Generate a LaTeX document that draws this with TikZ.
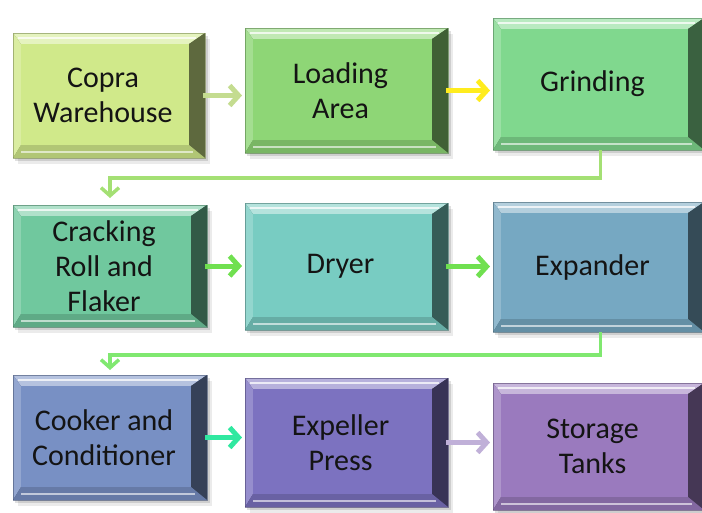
\documentclass[tikz,border=0pt]{standalone}
\usepackage{fontspec}
\setmainfont{Carlito}
\usepackage{xcolor}
\usetikzlibrary{arrows.meta,calc}
\definecolor{cwc}{HTML}{D0E98A}
\definecolor{lac}{HTML}{8ED676}
\definecolor{grc}{HTML}{80D88E}
\definecolor{crc}{HTML}{70C89E}
\definecolor{drc}{HTML}{78CCC2}
\definecolor{exc}{HTML}{76A8C2}
\definecolor{coc}{HTML}{7890C4}
\definecolor{epc}{HTML}{7C72C0}
\definecolor{stc}{HTML}{9A7ABE}
% bevelled box: name, x1, y1, x2, y2, colour, text
\newcommand{\bevbox}[7]{
\fill[black, opacity=0.08](#2+5,#3+6)--(#4+5,#3+6)--(#4+5,#5+6)--(#2+5,#5+6)--cycle;
\fill[black, opacity=0.12](#2+2,#3+3)--(#4+3,#3+3)--(#4+3,#5+3)--(#2+2,#5+3)--cycle;
\fill[#6!50!black](#2,#3)--(#4,#3)--(#4,#5)--(#2,#5)--cycle;
\fill[#6!55!white](#2,#3)--(#4,#3)--(#4-16,#3+11)--(#2+8,#3+11)--cycle;
\fill[#6!80!white](#2,#3)--(#2+8,#3+11)--(#2+8,#5-13)--(#2,#5)--cycle;
\fill[#6!45!black](#4,#3)--(#4,#5)--(#4-16,#5-13)--(#4-16,#3+11)--cycle;
\fill[#6!85!black](#2,#5)--(#2+8,#5-13)--(#4-16,#5-13)--(#4,#5)--cycle;
\fill[#6](#2+8,#3+11)--(#4-16,#3+11)--(#4-16,#5-13)--(#2+8,#5-13)--cycle;
\draw[white, opacity=0.75, line width=2pt](#2+5,#3+5)--(#4-9,#3+5);
\draw[white, opacity=0.6, line width=2pt](#2+8,#5-6)--(#4-12,#5-6);
\draw[#6!60!black, opacity=0.6, line width=0.6pt](#2,#3)--(#4,#3)--(#4,#5)--(#2,#5)--cycle;
\node[frame, minimum width={#4-#2}, minimum height={#5-#3}] (#1) at ({(#2+#4)/2},{(#3+#5)/2}) {};
\node[boxtext] (#1t) at ($(#1)+(-6,0)$) {#7};
}
\tikzset{
frame/.style={inner sep=0pt, outer sep=0pt},
boxtext/.style={inner sep=0pt, align=center, text=black!92, font=\fontsize{30}{35}\selectfont},
flow/.style={line width=5pt, -{Straight Barb[length=9pt,width=20pt]}, shorten >=3pt, shorten <=-2pt},
elbow/.style={line width=3.5pt, -{Straight Barb[length=8pt,width=18pt]}}
}

\begin{document}
\begin{tikzpicture}[x=1pt, y=-1pt]
\useasboundingbox (0,0) rectangle (702,512);

\bevbox{cw}{13}{33}{205}{158}{cwc}{Copra\\Warehouse}
\bevbox{la}{245}{28}{448}{153}{lac}{Loading\\Area}
\bevbox{gr}{493}{18}{704}{150}{grc}{Grinding}

\bevbox{cr}{13}{205}{207}{327}{crc}{Cracking\\Roll and\\Flaker}
\bevbox{dr}{245}{203}{448}{330}{drc}{Dryer}
\bevbox{ex}{493}{202}{704}{332}{exc}{Expander}

\bevbox{co}{13}{375}{207}{500}{coc}{Cooker and\\Conditioner}
\bevbox{ep}{245}{378}{448}{507}{epc}{Expeller\\Press}
\bevbox{st}{493}{383}{704}{510}{stc}{Storage\\Tanks}

\draw[flow, color={rgb,255:red,196;green,220;blue,144}] (cw.east) -- (cw.east -| la.west);
\draw[flow, color={rgb,255:red,255;green,236;blue,30}] (la.east) -- (la.east -| gr.west);

\draw[elbow, color={rgb,255:red,164;green,224;blue,116}, shorten >=7pt] ([xshift=2pt]gr.south) -- ++(0,28) -| (cr.north);

\draw[flow, color={rgb,255:red,112;green,224;blue,80}] (cr.east) -- (cr.east -| dr.west);
\draw[flow, color={rgb,255:red,112;green,224;blue,80}] (dr.east) -- (dr.east -| ex.west);

\draw[elbow, color={rgb,255:red,128;green,232;blue,112}, shorten >=5pt] ([xshift=2pt]ex.south) -- ++(0,23) -| (co.north);

\draw[flow, color={rgb,255:red,48;green,232;blue,160}] (co.east) -- (co.east -| ep.west);
\draw[flow, color={rgb,255:red,192;green,176;blue,216}] (ep.east) -- (ep.east -| st.west);

\end{tikzpicture}
\end{document}
